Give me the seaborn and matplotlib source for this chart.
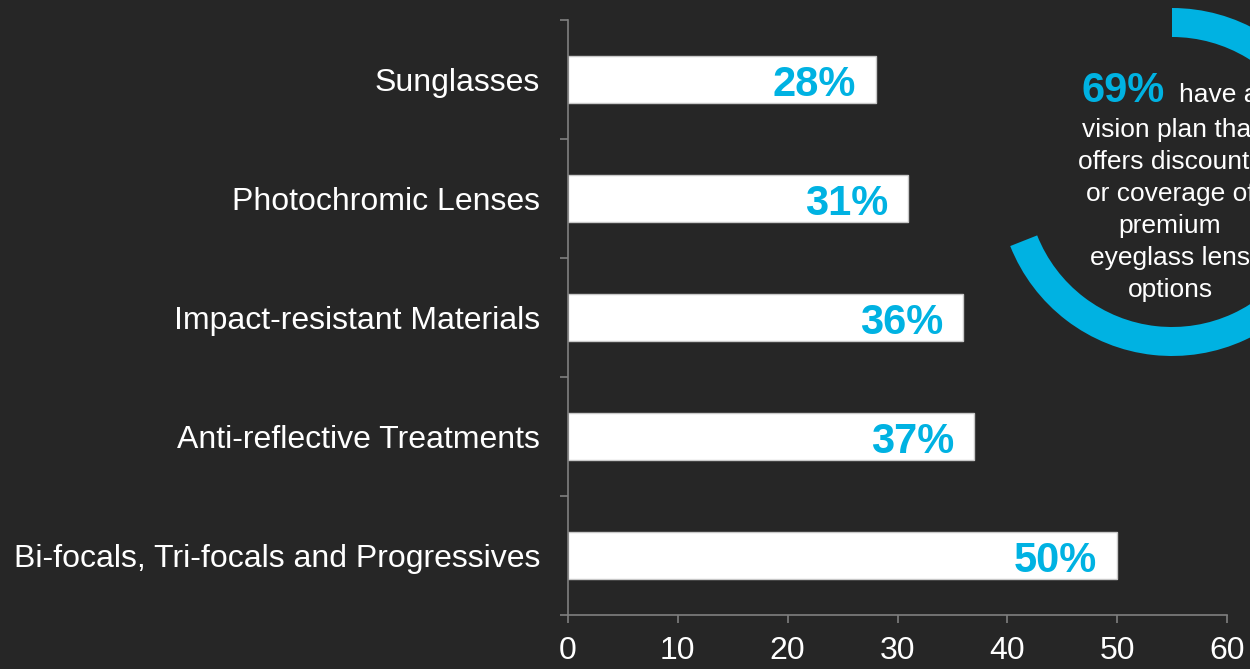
import matplotlib
matplotlib.use("Agg")
import matplotlib.pyplot as plt
from matplotlib.patches import Wedge
import seaborn as sns
import pandas as pd

# Data
categories = [
    "Sunglasses",
    "Photochromic Lenses",
    "Impact-resistant Materials",
    "Anti-reflective Treatments",
    "Bi-focals, Tri-focals and Progressives",
]
values = [28, 31, 36, 37, 50]
x_ticks = [0, 10, 20, 30, 40, 50, 60]
plan_share = 69
plan_text_lines = ["vision plan that", "offers discounts", "or coverage of",
                   "premium", "eyeglass lens", "options"]

BG = "#262626"
CYAN = "#00B2E2"
GRID = "#7f7f7f"

sns.set_theme(style="white")
plt.rcParams["font.family"] = ["Liberation Sans", "DejaVu Sans"]

df = pd.DataFrame({"feature": categories, "pct": values})

fig = plt.figure(figsize=(12.5, 6.69), dpi=100, facecolor=BG)
ax = fig.add_axes([568 / 1250, 1 - 615 / 669, 659 / 1250, 595 / 669])
ax.set_facecolor(BG)

sns.barplot(data=df, y="feature", x="pct", orient="h", color="white",
            width=0.4, edgecolor="#c8c8c8", linewidth=1, saturation=1, ax=ax)

ax.set_xlim(0, 60)
ax.set_ylim(len(categories) - 0.5, -0.5)
ax.set_xlabel("")
ax.set_ylabel("")

# Percentage labels inside the bar ends
for i, v in enumerate(values):
    ax.text(v - 1.8, i + 0.14, f"{v}%", ha="right", va="baseline", color=CYAN,
            fontsize=30, fontweight="bold")

# Axes styling
for side in ["top", "right"]:
    ax.spines[side].set_visible(False)
for side in ["left", "bottom"]:
    ax.spines[side].set_color(GRID)
    ax.spines[side].set_linewidth(1.2)

ax.set_xticks(x_ticks)
ax.set_xticklabels([str(t) for t in x_ticks])
ax.tick_params(axis="x", which="major", direction="out", length=6, width=1.2,
               color=GRID, labelcolor="white", labelsize=23, pad=9, bottom=True)

ax.set_yticks(range(len(categories)))
ax.set_yticklabels(categories)
ax.tick_params(axis="y", which="major", length=0, labelcolor="white",
               labelsize=23, pad=20)
ax.set_yticks([i - 0.5 for i in range(len(categories) + 1)], minor=True)
ax.tick_params(axis="y", which="minor", direction="out", length=6, width=1.2,
               color=GRID, left=True)

# Ring showing the vision plan share
cx, cy, R = 1172, 182, 174
rax = fig.add_axes([(cx - R) / 1250, 1 - (cy + R) / 669, 2 * R / 1250, 2 * R / 669])
rax.set_xlim(-1, 1)
rax.set_ylim(-1, 1)
rax.axis("off")
rax.set_facecolor("none")
start = 90 - plan_share / 100 * 360
rax.add_patch(Wedge((0, 0), 1.0, start, 90, width=29 / R, facecolor=CYAN,
                    edgecolor="none"))

fig.text(1165 / 1250, 1 - 102 / 669, f"{plan_share}%", ha="right", va="baseline",
         color=CYAN, fontsize=30, fontweight="bold")
fig.text(1179 / 1250, 1 - 102 / 669, "have a", ha="left", va="baseline",
         color="white", fontsize=19)
for k, line in enumerate(plan_text_lines):
    fig.text(1170 / 1250, 1 - (137 + 32 * k) / 669, line, ha="center",
             va="baseline", color="white", fontsize=19)

fig.savefig("out.png", dpi=100, facecolor=BG)
